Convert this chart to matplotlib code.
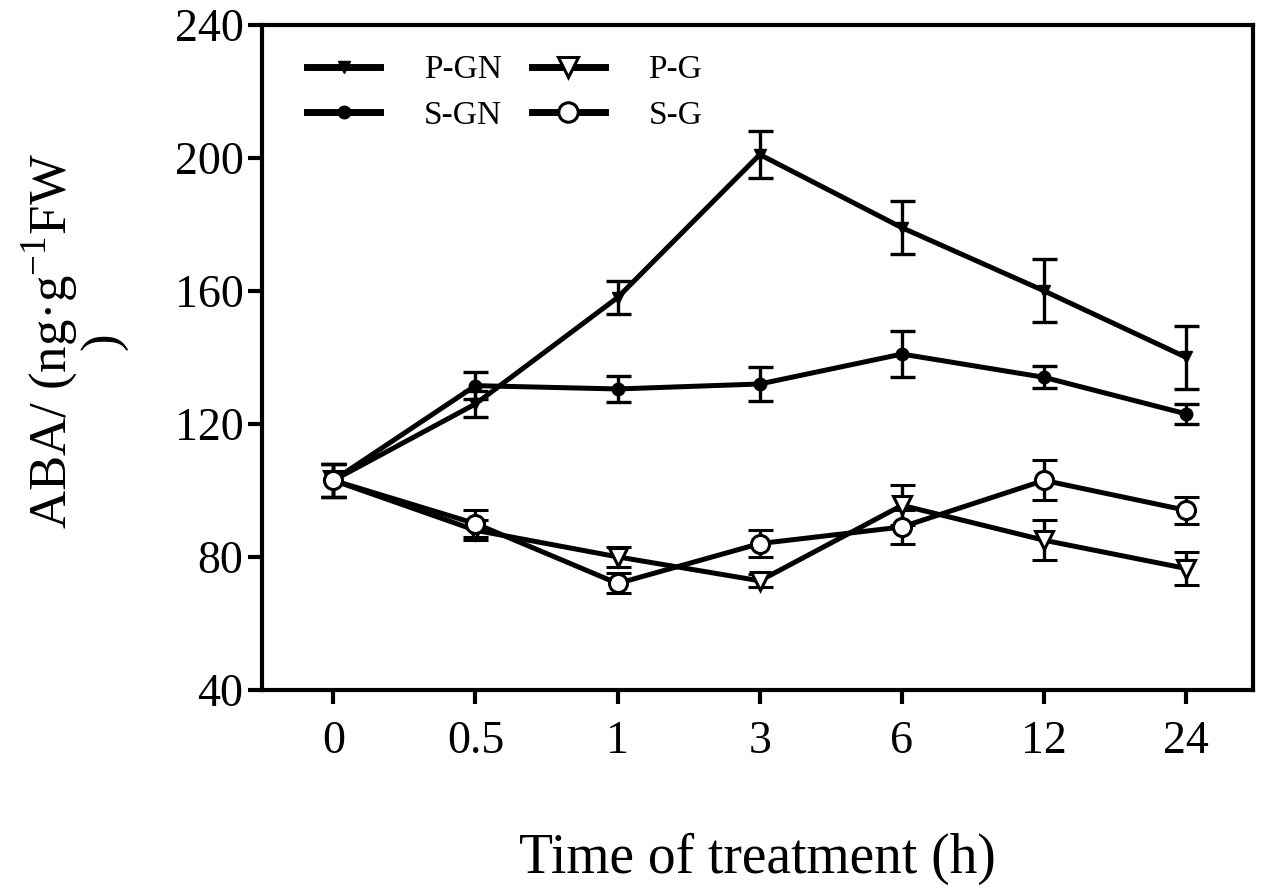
import numpy as np
import matplotlib.pyplot as plt
from matplotlib.lines import Line2D

plt.rcParams['font.family'] = ['Liberation Serif', 'DejaVu Serif']
plt.rcParams['mathtext.fontset'] = 'custom'
plt.rcParams['mathtext.rm'] = 'Liberation Serif'

times = ['0', '0.5', '1', '3', '6', '12', '24']

p_gn = [103, 126, 158, 201, 179, 160, 140]
p_gn_err = [5, 4, 5, 7, 8, 9.5, 9.5]
s_gn = [103, 131.5, 130.5, 132, 141, 134, 123]
s_gn_err = [5, 4, 4, 5, 7, 3.3, 3]
p_g = [103, 88, 80, 72.8, 95.5, 85, 76.5]
p_g_err = [5, 3, 3, 2, 6, 6, 5]
s_g = [103, 90, 72, 84, 89, 103, 94]
s_g_err = [5, 4, 3, 4, 5, 6, 4]

x = np.arange(len(times))

fig = plt.figure(figsize=(12.67, 8.89), dpi=100)
ax = fig.add_axes([0.207, 0.224, 0.782, 0.748])

common = dict(color='black', lw=3.6, elinewidth=2.4, capsize=9, capthick=2.4)
ax.errorbar(x, p_gn, yerr=p_gn_err, marker='v', ms=9, mfc='black', mec='black', **common)
ax.errorbar(x, s_gn, yerr=s_gn_err, marker='o', ms=9, mfc='black', mec='black', **common)
ax.errorbar(x, p_g, yerr=p_g_err, marker='v', ms=13, mfc='white', mec='black', mew=2.2, **common)
ax.errorbar(x, s_g, yerr=s_g_err, marker='o', ms=13, mfc='white', mec='black', mew=2.2, **common)

ax.set_xlim(-0.5, 6.47)
ax.set_ylim(40, 240)
ax.set_xticks(x)
ax.set_xticklabels(times)
ax.set_yticks([40, 80, 120, 160, 200, 240])

for s in ax.spines.values():
    s.set_linewidth(3)
ax.tick_params(axis='both', direction='out', length=10, width=3, labelsize=33)
ax.tick_params(axis='x', pad=12)

ax.set_xlabel('Time of treatment (h)', fontsize=40, labelpad=50)
ax.set_ylabel('ABA/ (ng·g$^{-1}$FW\n)', fontsize=38, linespacing=1.0)
ax.yaxis.set_label_coords(-0.135, 0.525)

handles = [
    Line2D([], [], color='black', lw=5, marker='v', ms=9, mfc='black'),
    Line2D([], [], color='black', lw=5, marker='o', ms=9, mfc='black'),
    Line2D([], [], color='black', lw=5, marker='v', ms=14, mfc='white', mew=2.2),
    Line2D([], [], color='black', lw=5, marker='o', ms=14, mfc='white', mew=2.2),
]
labels = ['P-GN', 'S-GN', 'P-G', 'S-G']
ax.legend(handles, labels, ncol=2, loc='upper left', frameon=False, fontsize=24,
          handlelength=2.2, columnspacing=0.9, handletextpad=1.3, labelspacing=0.45,
          bbox_to_anchor=(0.015, 1.0))

fig.savefig('out.png', dpi=100)
